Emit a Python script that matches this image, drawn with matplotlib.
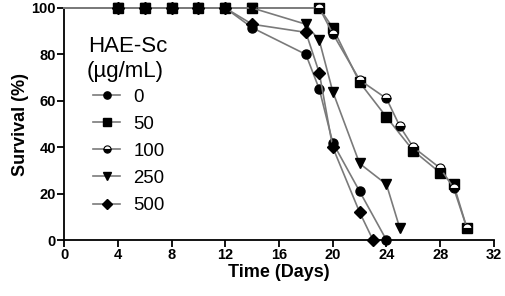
import matplotlib
matplotlib.use('Agg')
import matplotlib.pyplot as plt

plt.rcParams['font.family'] = ['Liberation Sans', 'DejaVu Sans']

# survival data, day 0 is the starting point (no marker)
days_0 = [0, 4, 6, 8, 10, 12, 14, 18, 19, 20, 22, 24]
surv_0 = [100, 100, 100, 100, 100, 100, 91.5, 80, 65, 42, 21, 0]

days_50 = [0, 4, 6, 8, 10, 12, 14, 19, 20, 22, 24, 26, 28, 29, 30]
surv_50 = [100, 100, 100, 100, 100, 100, 100, 100, 91.5, 68, 53, 38.5, 29, 24, 5]

days_100 = [0, 4, 6, 8, 10, 12, 14, 19, 20, 22, 24, 25, 26, 28, 29, 30]
surv_100 = [100, 100, 100, 100, 100, 100, 100, 100, 89, 69, 61, 49, 40, 31, 22.5, 5]

days_250 = [0, 4, 6, 8, 10, 12, 14, 18, 19, 20, 22, 24, 25]
surv_250 = [100, 100, 100, 100, 100, 100, 100, 93, 86, 64, 33, 24, 5]

days_500 = [0, 4, 6, 8, 10, 12, 14, 18, 19, 20, 22, 23]
surv_500 = [100, 100, 100, 100, 100, 100, 93, 89.5, 72, 40, 12, 0]

labels = ['0', '50', '100', '250', '500']
markers = ['o', 's', 'o', 'v', 'D']

series = [(days_0, surv_0), (days_50, surv_50), (days_100, surv_100),
          (days_250, surv_250), (days_500, surv_500)]

fig = plt.figure(figsize=(5.05, 2.96), dpi=100)
ax = fig.add_axes([0.127, 0.189, 0.851, 0.784])

for (d, s), lab, m in zip(series, labels, markers):
    kw = dict(color='#7a7a7a', lw=1.2, marker=m, ms=6.5,
              mfc='black', mec='black', markevery=slice(1, None),
              clip_on=False, zorder=3, label=lab)
    if lab == '100':
        kw.update(fillstyle='bottom', mfcalt='white', mec='black', mew=0.8)
    if m == 'D':
        kw['ms'] = 6.0
    ax.plot(d, s, **kw)

ax.set_xlim(0, 32)
ax.set_ylim(0, 100)
ax.set_xticks(range(0, 33, 4))
ax.set_yticks(range(0, 101, 20))
for side in ['top', 'right']:
    ax.spines[side].set_visible(False)
for side in ['left', 'bottom']:
    ax.spines[side].set_linewidth(1.3)
ax.tick_params(direction='out', length=5, width=1.3, labelsize=10.5, pad=1)
for t in ax.get_xticklabels() + ax.get_yticklabels():
    t.set_fontweight('bold')

ax.set_xlabel('Time (Days)', fontsize=13, fontweight='bold', labelpad=1)
ax.set_ylabel('Survival (%)', fontsize=13, fontweight='bold', labelpad=2)

# legend title as two text lines, entries indented below
ax.text(0.056, 0.810, 'HAE-Sc', transform=ax.transAxes, fontsize=16,
        va='baseline', ha='left')
ax.text(0.053, 0.703, '(\u00b5g/mL)', transform=ax.transAxes, fontsize=16,
        va='baseline', ha='left')

ax.legend(frameon=False, fontsize=13.4, loc='upper left',
          bbox_to_anchor=(0.068, 0.652), borderaxespad=0, borderpad=0,
          handlelength=1.45, handletextpad=0.7, labelspacing=0.54,
          markerscale=0.8)

fig.savefig('out.png', dpi=100)
